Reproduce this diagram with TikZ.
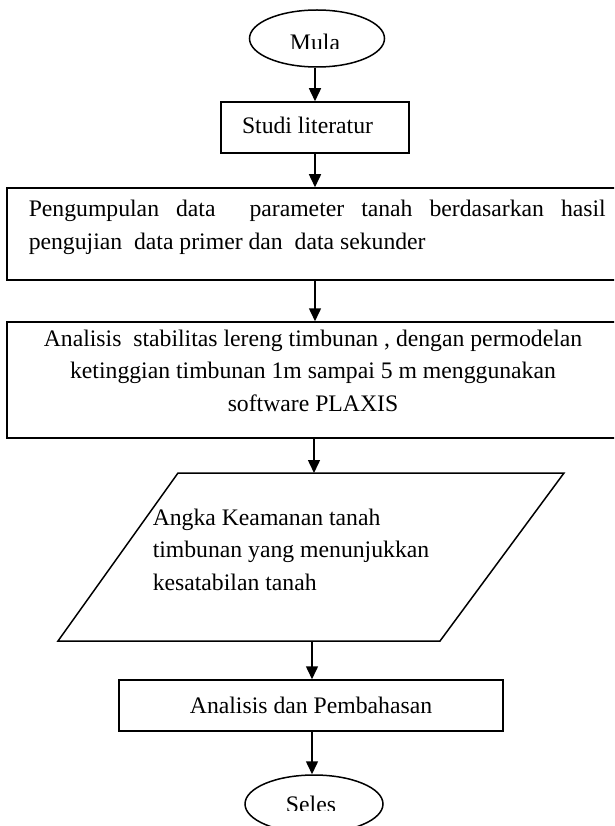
\documentclass[tikz,border=0pt]{standalone}
\usepackage{fontspec}
\setmainfont{Liberation Serif}
\usetikzlibrary{shapes.geometric,arrows.meta}
\newcommand{\fsz}{\fontsize{23.7}{32.8}\selectfont}
\begin{document}
\begin{tikzpicture}[x=1pt,y=-1pt,
  line width=1.5pt,
  arr/.style={-{Triangle[length=13pt,width=12pt]}},
  boxshape/.style={draw,rectangle,inner sep=0pt},
  oval/.style={draw,ellipse,inner sep=0pt},
  txt/.style={inner sep=0pt,font=\fsz}]
\clip (0,0) rectangle (614,826);
\fill[white] (0,0) rectangle (614,826);

% start
\node[oval,minimum width=135pt,minimum height=57pt] (mula) at (317,38.5) {};
\begin{scope}
\clip (250,20) rectangle (385,48.5);
\node[txt,anchor=base] (mulatxt) at (315,50.5) {Mula};
\end{scope}

% studi literatur
\node[boxshape,minimum width=188pt,minimum height=51pt] (studi) at (315,127.5) {};
\node[txt,anchor=base] (studitxt) at (307.5,133.5) {Studi literatur};

% pengumpulan data
\node[boxshape,minimum width=620pt,minimum height=92pt] (data) at (317,234) {};
\node[txt,anchor=base west] (datatxt) at (28,217) {\parbox[t]{577pt}{Pengumpulan data \ parameter tanah berdasarkan hasil\linebreak pengujian \ data primer dan \ data sekunder}};

% analisis
\node[boxshape,minimum width=620pt,minimum height=116pt] (anal) at (317,380) {};
\node[txt,anchor=base] (analtxt) at (313,346) {\parbox[t]{600pt}{\centering Analisis \ stabilitas lereng timbunan , dengan permodelan\\ ketinggian timbunan 1m sampai 5 m menggunakan\\ software PLAXIS}};

% parallelogram
\coordinate (ptl) at (178,473);
\coordinate (ptr) at (564,473);
\coordinate (pbr) at (440,641);
\coordinate (pbl) at (58,641);
\coordinate (ptop) at (314,473);
\coordinate (pbot) at (312,641);
\draw (ptl) -- (ptr) -- (pbr) -- (pbl) -- cycle;
\node[txt,anchor=base west] (paratxt) at (152,525) {\parbox[t]{400pt}{\raggedright Angka Keamanan tanah\\ timbunan yang menunjukkan\\ kesatabilan tanah}};

% analisis dan pembahasan
\node[boxshape,minimum width=384pt,minimum height=51pt] (bahas) at (311,705.5) {};
\node[txt,anchor=base] (bahastxt) at (311,713.5) {Analisis dan Pembahasan};

% end
\node[oval,minimum width=138pt,minimum height=58pt] (seles) at (314,804) {};
\begin{scope}
\clip (240,780) rectangle (390,810.5);
\node[txt,anchor=base] (selestxt) at (311,812) {Seles};
\end{scope}

% connectors
\draw[arr] (studi.north |- mula.south) -- (studi.north);
\draw[arr] (studi.south) -- (studi.south |- data.north);
\draw[arr] (data.south -| studi.south) -- (anal.north -| studi.south);
\draw[arr] (anal.south -| ptop) -- (ptop);
\draw[arr] (pbot) -- (pbot |- bahas.north);
\draw[arr] (bahas.south -| pbot) -- (pbot |- seles.north);
\end{tikzpicture}
\end{document}
